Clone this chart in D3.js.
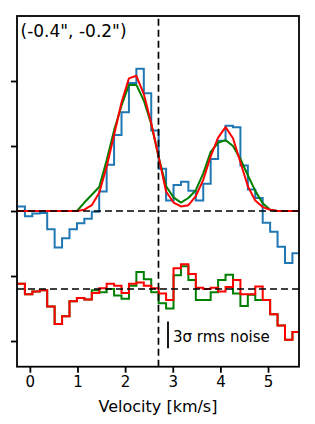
<!DOCTYPE html>
<html>
<head>
<meta charset="utf-8">
<script src="https://cdn.jsdelivr.net/npm/d3@7"></script>
<style>
  body { margin: 0; background: #ffffff; }
  svg { display: block; font-family: "DejaVu Sans", Verdana, sans-serif; }
</style>
</head>
<body>
<div id="chart"></div>
<script>
// channel centres [km/s]
const velocity = [-0.338, -0.182, -0.026, 0.130, 0.286, 0.442, 0.598, 0.754, 0.910, 1.066,
  1.222, 1.378, 1.534, 1.690, 1.846, 2.002, 2.158, 2.314, 2.470, 2.626,
  2.782, 2.938, 3.094, 3.250, 3.406, 3.562, 3.718, 3.874, 4.030, 4.186,
  4.342, 4.498, 4.654, 4.810, 4.966, 5.122, 5.278, 5.434, 5.590];

// observed spectrum (blue histogram)
const observed = [0.07, 0.07, -0.08, -0.04, -0.03, -0.28, -0.56, -0.42, -0.28, -0.19,
  -0.12, -0.01, 0.30, 0.71, 1.17, 1.52, 1.97, 2.19, 1.81, 1.24,
  0.65, 0.16, 0.40, 0.45, 0.31, 0.16, 0.42, 0.80, 1.08, 1.31,
  1.29, 0.70, 0.33, 0.20, -0.18, -0.32, -0.55, -0.80, -0.65];

// model curves
const modelVelocity = [-0.416, 0.832, 0.988, 1.144, 1.300, 1.456, 1.612, 1.768, 1.924, 2.080,
  2.236, 2.392, 2.548, 2.704, 2.860, 3.016, 3.172, 3.328, 3.484, 3.640,
  3.796, 3.952, 4.108, 4.264, 4.420, 4.576, 4.732, 4.888, 5.044, 5.200,
  5.356, 5.824];
const greenModel = [0, 0, 0, 0.13, 0.25, 0.37, 0.78, 1.24, 1.62, 1.94,
  1.94, 1.70, 1.34, 0.83, 0.38, 0.21, 0.13, 0.20, 0.32, 0.58,
  0.91, 1.05, 1.09, 1.00, 0.80, 0.55, 0.31, 0.12, 0.02, 0,
  0, 0];
const redModel = [0, 0, 0, 0.02, 0.09, 0.28, 0.68, 1.17, 1.67, 2.04,
  2.08, 1.80, 1.35, 0.83, 0.30, 0.13, 0.07, 0.09, 0.23, 0.48,
  0.84, 1.13, 1.29, 1.12, 0.75, 0.38, 0.16, 0.06, 0.02, 0,
  0, 0];

// residuals (drawn shifted down by residualOffset)
const greenResidual = [0.08, 0.08, -0.08, -0.04, -0.02, -0.27, -0.54, -0.42, -0.19, -0.14,
  -0.16, -0.02, -0.05, 0.00, -0.10, -0.15, 0.05, 0.26, 0.15, -0.05,
  -0.22, -0.30, 0.21, 0.35, 0.14, -0.17, -0.17, -0.05, 0.14, 0.22,
  -0.07, -0.26, -0.09, -0.17, -0.17, -0.39, -0.56, -0.78, -0.66];
const redResidual = [0.08, 0.08, -0.08, -0.04, -0.02, -0.27, -0.54, -0.42, -0.19, -0.14,
  -0.16, -0.06, 0.01, 0.08, 0.05, -0.06, 0.08, 0.10, 0.05, 0.01,
  -0.07, -0.17, 0.32, 0.38, 0.23, 0.02, 0.00, 0.02, -0.04, 0.03,
  0.14, -0.08, -0.08, 0.04, -0.17, -0.39, -0.56, -0.78, -0.66];

const xTicks = [0, 1, 2, 3, 4, 5];
const yTicks = [-2, -1, 0, 1, 2];
const title = '(-0.4", -0.2")';
const xLabel = 'Velocity [km/s]';
const noiseLabel = '3σ rms noise';
const residualOffset = -1.2;
const systemicVelocity = 2.7;
const rms = 0.137;

const W = 315, H = 424;
const margin = {left: 17, right: 16, top: 16, bottom: 57.3};

const svg = d3.select('#chart').append('svg')
  .attr('width', W)
  .attr('height', H);

const x = d3.scaleLinear()
  .domain([-0.27, 5.65])
  .range([margin.left, W - margin.right]);

const y = d3.scaleLinear()
  .domain([-2.395, 3.0])
  .range([H - margin.bottom, margin.top]);

svg.append('defs').append('clipPath')
  .attr('id', 'plot-clip')
  .append('rect')
  .attr('x', x.range()[0])
  .attr('y', y.range()[1])
  .attr('width', x.range()[1] - x.range()[0])
  .attr('height', y.range()[0] - y.range()[1]);

const plot = svg.append('g').attr('clip-path', 'url(#plot-clip)');

// histogram path, each channel covers half the spacing to its neighbours
const stepPoints = (vals, offset) => {
  const pts = [];
  vals.forEach((v, i) => {
    const c = velocity[i];
    const left = i === 0 ? c - (velocity[1] - velocity[0]) / 2 : (velocity[i - 1] + c) / 2;
    const right = i === vals.length - 1 ? c + (c - velocity[i - 1]) / 2 : (c + velocity[i + 1]) / 2;
    pts.push([left, v + offset], [right, v + offset]);
  });
  return pts;
};

const line = d3.line()
  .x(d => x(d[0]))
  .y(d => y(d[1]));

plot.append('path')
  .attr('d', line(stepPoints(observed, 0)))
  .attr('fill', 'none')
  .attr('stroke', '#1f77b4')
  .attr('stroke-width', 2);

plot.append('path')
  .attr('d', line(modelVelocity.map((v, i) => [v, greenModel[i]])))
  .attr('fill', 'none')
  .attr('stroke', 'green')
  .attr('stroke-width', 2)
  .attr('stroke-linejoin', 'round');

plot.append('path')
  .attr('d', line(modelVelocity.map((v, i) => [v, redModel[i]])))
  .attr('fill', 'none')
  .attr('stroke', 'red')
  .attr('stroke-width', 2)
  .attr('stroke-linejoin', 'round');

plot.append('path')
  .attr('d', line(stepPoints(greenResidual, residualOffset)))
  .attr('fill', 'none')
  .attr('stroke', 'green')
  .attr('stroke-width', 2);

plot.append('path')
  .attr('d', line(stepPoints(redResidual, residualOffset)))
  .attr('fill', 'none')
  .attr('stroke', 'red')
  .attr('stroke-width', 2);

// dashed reference lines
[0, residualOffset].forEach(level => {
  plot.append('line')
    .attr('x1', x.range()[0]).attr('x2', x.range()[1])
    .attr('y1', y(level)).attr('y2', y(level))
    .attr('stroke', 'black')
    .attr('stroke-width', 1.7)
    .attr('stroke-dasharray', '7,4');
});

plot.append('line')
  .attr('x1', x(systemicVelocity)).attr('x2', x(systemicVelocity))
  .attr('y1', y.range()[0]).attr('y2', y.range()[1])
  .attr('stroke', 'black')
  .attr('stroke-width', 1.7)
  .attr('stroke-dasharray', '7,4');

// noise bar
const barX = 2.9, barBottom = -2.11;
svg.append('line')
  .attr('x1', x(barX)).attr('x2', x(barX))
  .attr('y1', y(barBottom)).attr('y2', y(barBottom + 3 * rms))
  .attr('stroke', 'black')
  .attr('stroke-width', 1.8);

svg.append('text')
  .attr('x', x(barX) + 5)
  .attr('y', 341.5)
  .style('font-size', '15px')
  .text(noiseLabel);

svg.append('text')
  .attr('x', 20.5)
  .attr('y', 37)
  .style('font-size', '17px')
  .text(title);

// axes
const xAxis = svg.append('g')
  .attr('transform', `translate(0,${y.range()[0]})`)
  .call(d3.axisBottom(x).tickValues(xTicks).tickFormat(d3.format('d')).tickSize(6).tickPadding(4));

const yAxis = svg.append('g')
  .attr('transform', `translate(${x.range()[0]},0)`)
  .call(d3.axisLeft(y).tickValues(yTicks).tickFormat('').tickSize(6));

[xAxis, yAxis].forEach(g => {
  g.select('.domain').remove();
  g.selectAll('.tick line').attr('stroke-width', 1.8);
  g.selectAll('text')
    .style('font-family', '"DejaVu Sans", sans-serif')
    .style('font-size', '15px')
    .attr('fill', 'black');
});

svg.append('rect')
  .attr('x', x.range()[0])
  .attr('y', y.range()[1])
  .attr('width', x.range()[1] - x.range()[0])
  .attr('height', y.range()[0] - y.range()[1])
  .attr('fill', 'none')
  .attr('stroke', 'black')
  .attr('stroke-width', 1.8);

svg.append('text')
  .attr('x', (x.range()[0] + x.range()[1]) / 2)
  .attr('y', 411.5)
  .attr('text-anchor', 'middle')
  .style('font-size', '16px')
  .text(xLabel);
</script>
</body>
</html>
